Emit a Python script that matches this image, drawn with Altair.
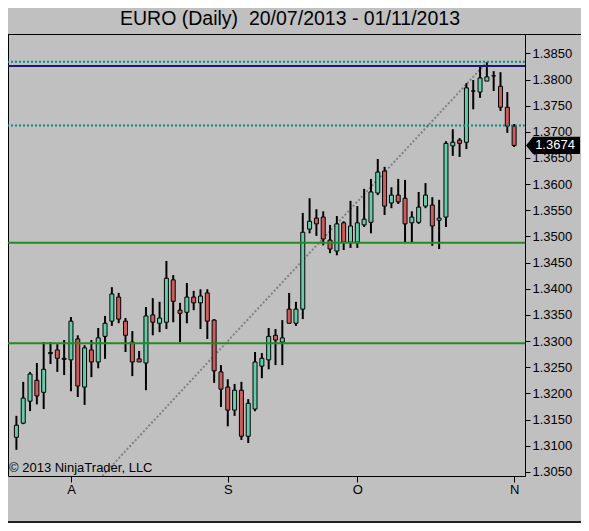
import altair as alt
import pandas as pd

# ---------------- data ----------------
opens = [1.3116, 1.3143, 1.3185, 1.3225, 1.3202, 1.3276, 1.3283, 1.3267, 1.3264, 1.3304,
         1.3212, 1.3283, 1.3260, 1.3309, 1.3338, 1.3384, 1.3338, 1.3298, 1.3266, 1.3258,
         1.3350, 1.3334, 1.3336, 1.3417, 1.3359, 1.3355, 1.3384, 1.3373, 1.3392, 1.3340,
         1.3241, 1.3212, 1.3168, 1.3206, 1.3118, 1.3170, 1.3252, 1.3264, 1.3311, 1.3298,
         1.3361, 1.3334, 1.3361, 1.3514, 1.3535, 1.3537, 1.3493, 1.3472, 1.3526, 1.3489,
         1.3489, 1.3522, 1.3527, 1.3583, 1.3625, 1.3564, 1.3579, 1.3573, 1.3526, 1.3527,
         1.3558, 1.3560, 1.3531, 1.3537, 1.3673, 1.3684, 1.3680, 1.3778, 1.3776, 1.3797,
         1.3807, 1.3787, 1.3747, 1.3711]
highs = [1.3157, 1.3222, 1.3241, 1.3258, 1.3298, 1.3298, 1.3294, 1.3302, 1.3346, 1.3311,
         1.3292, 1.3302, 1.3325, 1.3348, 1.3403, 1.3392, 1.3344, 1.3319, 1.3281, 1.3365,
         1.3382, 1.3375, 1.3453, 1.3426, 1.3373, 1.3411, 1.3396, 1.3399, 1.3399, 1.3342,
         1.3254, 1.3227, 1.3218, 1.3222, 1.3189, 1.3279, 1.3277, 1.3325, 1.3323, 1.3340,
         1.3392, 1.3375, 1.3545, 1.3573, 1.3552, 1.3548, 1.3522, 1.3539, 1.3529, 1.3568,
         1.3558, 1.3591, 1.3610, 1.3648, 1.3633, 1.3594, 1.3610, 1.3608, 1.3548, 1.3585,
         1.3602, 1.3575, 1.3570, 1.3682, 1.3705, 1.3688, 1.3793, 1.3799, 1.3824, 1.3833,
         1.3816, 1.3814, 1.3776, 1.3715]
lows = [1.3092, 1.3141, 1.3166, 1.3179, 1.3170, 1.3256, 1.3241, 1.3235, 1.3204, 1.3193,
        1.3178, 1.3231, 1.3248, 1.3266, 1.3329, 1.3334, 1.3279, 1.3233, 1.3260, 1.3206,
        1.3311, 1.3317, 1.3323, 1.3336, 1.3298, 1.3334, 1.3359, 1.3323, 1.3304, 1.3220,
        1.3174, 1.3137, 1.3157, 1.3111, 1.3105, 1.3166, 1.3229, 1.3246, 1.3254, 1.3254,
        1.3334, 1.3329, 1.3342, 1.3506, 1.3501, 1.3483, 1.3468, 1.3464, 1.3474, 1.3478,
        1.3478, 1.3518, 1.3506, 1.3579, 1.3541, 1.3554, 1.3562, 1.3489, 1.3489, 1.3524,
        1.3554, 1.3482, 1.3476, 1.3518, 1.3654, 1.3652, 1.3667, 1.3743, 1.3765, 1.3797,
        1.3778, 1.3740, 1.3698, 1.3671]
closes = [1.3139, 1.3191, 1.3237, 1.3195, 1.3246, 1.3278, 1.3267, 1.3265, 1.3338, 1.3214,
          1.3287, 1.3260, 1.3306, 1.3334, 1.3390, 1.3342, 1.3311, 1.3260, 1.3260, 1.3348,
          1.3336, 1.3344, 1.3420, 1.3376, 1.3353, 1.3384, 1.3373, 1.3386, 1.3338, 1.3243,
          1.3208, 1.3168, 1.3206, 1.3118, 1.3181, 1.3260, 1.3267, 1.3309, 1.3302, 1.3306,
          1.3334, 1.3361, 1.3508, 1.3529, 1.3524, 1.3495, 1.3476, 1.3524, 1.3489, 1.3520,
          1.3526, 1.3533, 1.3585, 1.3623, 1.3558, 1.3579, 1.3566, 1.3524, 1.3537, 1.3556,
          1.3579, 1.3520, 1.3535, 1.3678, 1.3680, 1.3678, 1.3784, 1.3778, 1.3803, 1.3805,
          1.3807, 1.3747, 1.3711, 1.3674]
bar_no = list(range(len(opens)))

month_ticks = [8, 31, 50, 73]
month_labels = ["A", "S", "O", "N"]
price_ticks = [1.3050, 1.3100, 1.3150, 1.3200, 1.3250, 1.3300, 1.3350, 1.3400, 1.3450,
               1.3500, 1.3550, 1.3600, 1.3650, 1.3700, 1.3750, 1.3800, 1.3850]

green_levels = [1.3488, 1.3296]
blue_levels = [1.3826]
dotted_levels = [1.3834, 1.3712]
trend_x = [12.6, 69]
trend_y = [1.3042, 1.3833]
last_price = [1.3674]

title_text = "EURO (Daily)\u00a0 20/07/2013 - 01/11/2013"
copyright_text = "\u00a9 2013 NinjaTrader, LLC"

# ---------------- chart ----------------
W, H = 517, 442
PAD_R, PAD_B = 56, 47
FONT = "Liberation Sans"

candles = pd.DataFrame({"bar": bar_no, "open": opens, "high": highs,
                        "low": lows, "close": closes})

label_expr = "''"
for t, l in reversed(list(zip(month_ticks, month_labels))):
    label_expr = f"datum.value == {t} ? '{l}' : {label_expr}"

xscale = alt.Scale(domain=[-0.5, 73.86], nice=False, zero=False)
yscale = alt.Scale(domain=[1.3042, 1.3887], nice=False, zero=False)
xaxis = alt.Axis(values=month_ticks, labelExpr=label_expr, grid=False, domain=False,
                 tickSize=6, tickColor="black", labelColor="black", labelFont=FONT,
                 labelFontSize=13, labelPadding=1, labelFlush=False, labelOverlap=False,
                 title=None)
yaxis = alt.Axis(orient="right", values=price_ticks, format=".4f", grid=False,
                 domainColor="black", tickColor="black", tickSize=5, labelColor="black",
                 labelFont=FONT, labelFontSize=13, labelPadding=2, labelFlush=False,
                 labelOverlap=False, title=None)


def X(f):
    return alt.X(f"{f}:Q", scale=xscale, axis=xaxis)


def Y(f):
    return alt.Y(f"{f}:Q", scale=yscale, axis=yaxis)


trend = alt.Chart(pd.DataFrame({"bar": trend_x, "price": trend_y})).mark_line(
    color="#808080", strokeWidth=2, strokeDash=[2, 2], clip=True
).encode(x=X("bar"), y=Y("price"))

wicks = alt.Chart(candles).mark_rule(color="black", strokeWidth=2).encode(
    x=X("bar"), y=Y("low"), y2="high")

bodies = alt.Chart(candles).mark_bar(size=4, stroke="black", strokeWidth=1).encode(
    x=X("bar"), y=Y("open"), y2="close",
    fill=alt.condition("datum.close >= datum.open", alt.value("#66CDAA"), alt.value("#CD5C5C")))

green_rules = alt.Chart(pd.DataFrame({"price": green_levels})).mark_rule(
    color="#228B22", strokeWidth=2).encode(y=Y("price"))
blue_rules = alt.Chart(pd.DataFrame({"price": blue_levels})).mark_rule(
    color="#191970", strokeWidth=2).encode(y=Y("price"))
dotted_rules = alt.Chart(pd.DataFrame({"price": dotted_levels})).mark_rule(
    color="#008B8B", strokeWidth=2, strokeDash=[2, 2]).encode(y=Y("price"))

one = pd.DataFrame({"k": [0]})
top_border = alt.Chart(one).mark_rule(color="black", strokeWidth=1).encode(
    x=alt.value(0), x2=alt.value(W + PAD_R), y=alt.value(0.5))
bottom_border = alt.Chart(one).mark_rule(color="#202020", strokeWidth=2).encode(
    x=alt.value(0), x2=alt.value(W + PAD_R), y=alt.value(H + PAD_B - 1))

title = alt.Chart(one).mark_text(
    text=title_text, font=FONT, fontSize=19.5, align="center", baseline="alphabetic",
    color="black").encode(x=alt.value(282), y=alt.value(-9))

copyright_mark = alt.Chart(one).mark_text(
    text=copyright_text, font=FONT, fontSize=13, align="left", baseline="alphabetic",
    color="black").encode(x=alt.value(1), y=alt.value(438))

flag_path = "M0,0 L0.26,-0.32 L2,-0.32 L2,0.32 L0.26,0.32 Z"
last_df = pd.DataFrame({"price": last_price})
flag = alt.Chart(last_df).mark_point(
    shape=flag_path, size=2916, filled=True, color="black", opacity=1, strokeWidth=0
).encode(x=alt.value(W + 1), y=Y("price"))
flag_text = alt.Chart(last_df).mark_text(
    font=FONT, fontSize=13, align="center", baseline="middle", color="white"
).encode(x=alt.value(W + 30), y=Y("price"), text=alt.Text("price:Q", format=".4f"))

chart = alt.layer(
    trend, wicks, bodies, green_rules, blue_rules, dotted_rules,
    top_border, bottom_border, title, copyright_mark, flag, flag_text
).properties(
    width=W, height=H,
    autosize=alt.AutoSizeParams(type="none"),
    padding={"left": 0, "top": 26, "right": PAD_R, "bottom": PAD_B},
    background="#C0C0C0",
).configure_view(stroke="black", strokeWidth=1)

chart.save("out.html", embed_options={"renderer": "svg", "actions": False})
